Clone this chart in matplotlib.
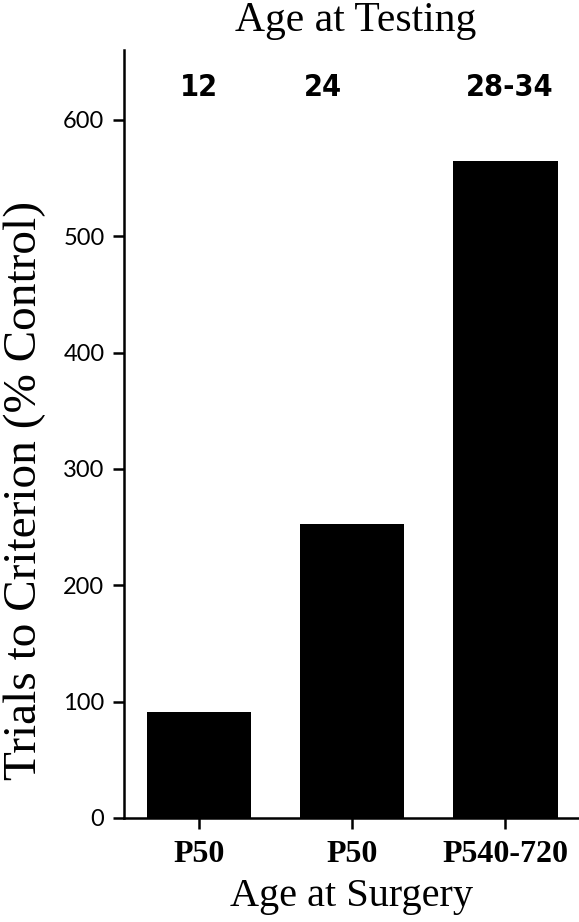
import matplotlib
matplotlib.use('Agg')
import matplotlib.pyplot as plt

# data
surgery_age = ['P50', 'P50', 'P540-720']
testing_age = ['12', '24', '28-34']
trials_pct = [91, 253, 565]

# x positions of the "age at testing" labels (not centred on bars in the original)
testing_x = [0.0, 0.81, 2.03]

fig = plt.figure(figsize=(5.79, 9.22), dpi=100)
ax = fig.add_axes([0.214, 0.1128, 0.786, 0.833])

x = list(range(len(trials_pct)))
ax.bar(x, trials_pct, width=0.68, color='black')

ax.set_xlim(-0.49, 2.48)
ax.set_ylim(0, 660)
ax.set_yticks([0, 100, 200, 300, 400, 500, 600])
ax.set_xticks(x)
ax.set_xticklabels(surgery_age, family='Liberation Serif', fontweight='bold',
                   fontsize=23)
for lab in ax.get_yticklabels():
    lab.set_family(['Lato', 'DejaVu Sans'])
    lab.set_fontsize(17)

ax.spines['top'].set_visible(False)
ax.spines['right'].set_visible(False)
ax.spines['left'].set_linewidth(1.8)
ax.spines['bottom'].set_linewidth(1.8)
ax.tick_params(axis='y', length=8, width=1.8, pad=6)
ax.tick_params(axis='x', length=8, width=1.8, pad=8)

ax.set_ylabel('Trials to Criterion (% Control)', family='Liberation Serif',
              fontsize=34)
ax.yaxis.set_label_coords(-0.17, 0.426)
ax.set_xlabel('Age at Surgery', family='Liberation Serif', fontsize=29,
              labelpad=6)

for xi, lab in zip(testing_x, testing_age):
    ax.text(xi, 628, lab, ha='center', va='center', fontsize=22,
            fontweight='bold', fontstretch='condensed',
            family=['DejaVu Sans'])

fig.text(0.615, 0.978, 'Age at Testing', ha='center', va='center',
         family='Liberation Serif', fontsize=30)

fig.savefig('out.png', dpi=100)
